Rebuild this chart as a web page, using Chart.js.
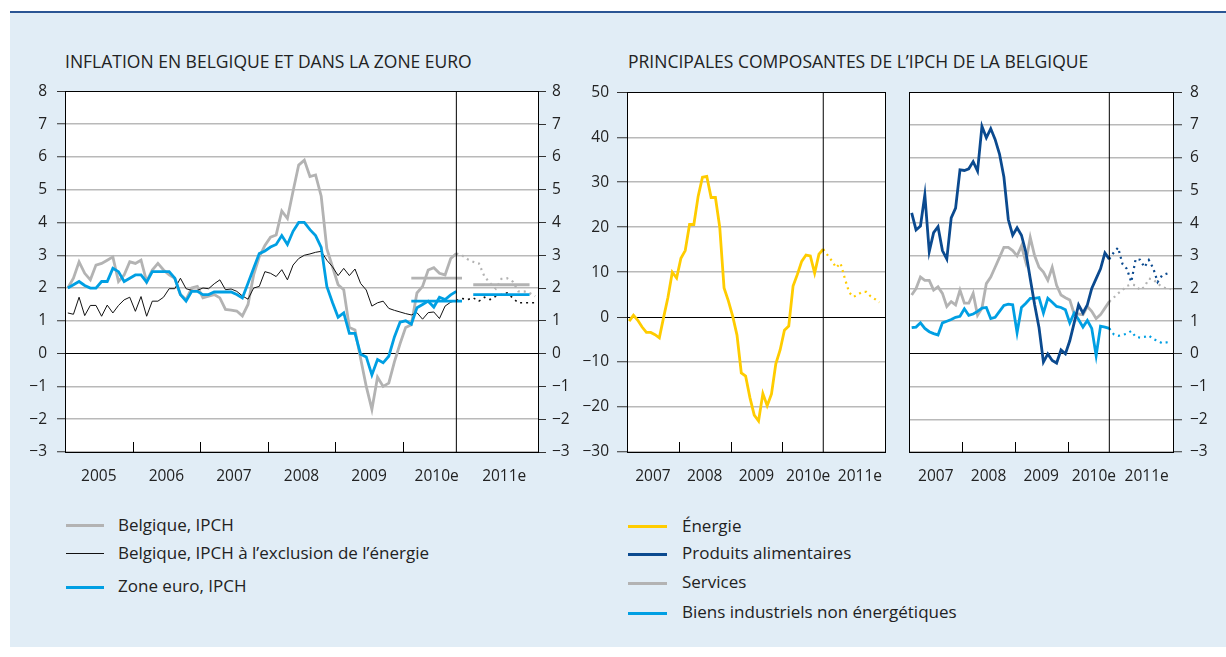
<!DOCTYPE html>
<html>
<head>
<meta charset="utf-8">
<script src="https://cdn.jsdelivr.net/npm/chart.js@4.4.0/dist/chart.umd.min.js"></script>
<style>
  body { margin: 0; width: 1226px; height: 657px; overflow: hidden; background: #fff; font-family: "Open Sans", sans-serif; color: #222; }
  #frame { position: absolute; left: 10px; top: 11px; width: 1216px; height: 634px; background: #e1edf6; border-top: 2px solid #2a5594; }
  canvas { position: absolute; }
  .title { position: absolute; font-size: 17.5px; line-height: 22px; white-space: nowrap; }
  .leg { position: absolute; font-size: 17px; line-height: 22px; white-space: nowrap; }
  .ln { position: absolute; }
</style>
</head>
<body>
<div id="frame"></div>
<div class="title" style="left:65px;top:50px">INFLATION EN BELGIQUE ET DANS LA ZONE EURO</div>
<div class="title" style="left:628px;top:50px">PRINCIPALES COMPOSANTES DE L’IPCH DE LA BELGIQUE</div>

<canvas id="left" width="580" height="418" style="left:0;top:72px"></canvas>
<canvas id="energy" width="327" height="415" style="left:570px;top:75px"></canvas>
<canvas id="parts" width="320" height="415" style="left:903px;top:75px"></canvas>

<div class="ln" style="left:66px;top:524px;width:38px;height:3px;background:#b3b3b3"></div>
<div class="leg" style="left:118px;top:514px">Belgique, IPCH</div>
<div class="ln" style="left:66px;top:553px;width:38px;height:1px;background:#111"></div>
<div class="leg" style="left:118px;top:542px">Belgique, IPCH à l’exclusion de l’énergie</div>
<div class="ln" style="left:66px;top:586px;width:38px;height:3px;background:#009fe3"></div>
<div class="leg" style="left:118px;top:575px">Zone euro, IPCH</div>

<div class="ln" style="left:628px;top:525px;width:39px;height:3px;background:#ffcc00"></div>
<div class="leg" style="left:682px;top:515px">Énergie</div>
<div class="ln" style="left:628px;top:553px;width:39px;height:3px;background:#0b4a8f"></div>
<div class="leg" style="left:682px;top:542px">Produits alimentaires</div>
<div class="ln" style="left:628px;top:582px;width:39px;height:3px;background:#b3b3b3"></div>
<div class="leg" style="left:682px;top:571px">Services</div>
<div class="ln" style="left:628px;top:612px;width:39px;height:3px;background:#009fe3"></div>
<div class="leg" style="left:682px;top:601px">Biens industriels non énergétiques</div>

<script>
// months counted from January of the first year shown, points sit mid-month
var leftYears = ['2005', '2006', '2007', '2008', '2009', '2010e', '2011e'];
var rightYears = ['2007', '2008', '2009', '2010e', '2011e'];

// left panel, Jan 2005 - Oct 2010
var belgiumHicp = [
  2.0, 2.3, 2.8, 2.45, 2.25, 2.7, 2.75, 2.85, 2.95, 2.2, 2.4, 2.8,
  2.75, 2.85, 2.2, 2.55, 2.75, 2.55, 2.4, 2.3, 1.8, 1.65, 2.0, 2.05,
  1.7, 1.75, 1.8, 1.7, 1.35, 1.33, 1.3, 1.15, 1.5, 2.4, 2.95, 3.3,
  3.55, 3.62, 4.35, 4.12, 4.95, 5.75, 5.9, 5.4, 5.45, 4.8, 3.2, 2.65,
  2.1, 1.95, 0.8, 0.72, -0.15, -1.0, -1.7, -0.72, -1.0, -0.9, -0.25, 0.3,
  0.8, 0.88, 1.85, 2.05, 2.55, 2.62, 2.45, 2.4, 2.9, 3.05
];
var belgiumCore = [
  1.24, 1.2, 1.72, 1.16, 1.47, 1.47, 1.14, 1.48, 1.24, 1.47, 1.64, 1.72,
  1.29, 1.74, 1.14, 1.6, 1.6, 1.72, 1.98, 1.98, 2.3, 1.98, 1.93, 1.93,
  2.0, 1.98, 2.13, 2.25, 1.95, 1.97, 1.9, 1.76, 1.66, 2.0, 2.05, 2.5,
  2.45, 2.35, 2.56, 2.25, 2.7, 2.9, 3.0, 3.04, 3.09, 3.12, 2.85, 2.65,
  2.38, 2.6, 2.38, 2.58, 2.14, 1.94, 1.45, 1.55, 1.6, 1.38, 1.32, 1.27,
  1.22, 1.18, 1.25, 1.05, 1.25, 1.27, 1.07, 1.45, 1.57, 1.62
];
var euroHicp = [
  2.0, 2.1, 2.2, 2.08, 2.0, 2.0, 2.2, 2.2, 2.6, 2.5, 2.2, 2.3,
  2.4, 2.4, 2.18, 2.5, 2.5, 2.5, 2.5, 2.3, 1.8, 1.6, 1.9, 1.9,
  1.8, 1.8, 1.88, 1.88, 1.88, 1.88, 1.8, 1.7, 2.15, 2.6, 3.05, 3.13,
  3.25, 3.33, 3.6, 3.33, 3.73, 4.0, 4.0, 3.78, 3.6, 3.24, 2.05, 1.56,
  1.11, 1.24, 0.62, 0.62, -0.02, -0.1, -0.65, -0.18, -0.28, -0.08, 0.51, 0.96,
  1.0, 0.9, 1.4, 1.5, 1.6, 1.42, 1.72, 1.65, 1.79, 1.9
];
// projections, Oct 2010 - Dec 2011
var belgiumHicpProj = [3.05, 3.0, 2.88, 2.8, 2.75, 2.35, 2.15, 1.98, 2.28, 2.3, 2.2, 1.9, 1.9, 1.85, 1.75];
var belgiumCoreProj = [1.62, 1.68, 1.65, 1.7, 1.6, 1.72, 1.65, 1.75, 1.8, 1.85, 1.7, 1.55, 1.55, 1.55, 1.55];
// yearly averages 2010e and 2011e
var avgBelgium = [2.3, 2.1];
var avgEuro = [1.6, 1.8];
var avgFrom = [61.5, 72.5];
var avgTo = [70.5, 82.5];
var leftForecast = 69.5;

// right panels, Jan 2007 - Oct 2010
var energy = [
  -0.9, 0.4, -0.7, -2.2, -3.4, -3.4, -3.9, -4.6, 0.0, 4.4, 10.0, 8.7,
  13.1, 14.8, 20.6, 20.6, 26.9, 31.1, 31.3, 26.6, 26.6, 20.0, 6.5, 3.6,
  0.2, -4.0, -12.4, -13.1, -17.9, -21.8, -23.1, -17.0, -19.7, -17.1, -10.4, -7.3,
  -2.9, -2.0, 6.9, 9.5, 12.4, 13.8, 13.6, 9.8, 14.0, 15.1
];
var food = [
  4.31, 3.79, 3.91, 4.86, 3.13, 3.71, 3.89, 3.16, 2.9, 4.16, 4.46, 5.63,
  5.61, 5.66, 5.88, 5.59, 6.96, 6.61, 6.89, 6.56, 6.11, 5.41, 4.11, 3.63,
  3.86, 3.63, 3.11, 2.3, 1.5, 0.8, -0.25, 0.0, -0.2, -0.28, 0.12, 0.0,
  0.4, 0.95, 1.5, 1.25, 1.5, 2.0, 2.3, 2.6, 3.09, 2.9
];
var services = [
  1.8, 2.0, 2.35, 2.25, 2.25, 1.95, 2.05, 1.85, 1.45, 1.6, 1.5, 1.95,
  1.55, 1.55, 1.85, 1.18, 1.4, 2.15, 2.35, 2.65, 2.95, 3.26, 3.26, 3.16,
  3.0, 3.3, 2.8, 3.56, 3.0, 2.65, 2.5, 2.25, 2.65, 2.1, 1.8, 1.72,
  1.65, 1.22, 1.22, 1.2, 1.45, 1.3, 1.08, 1.2, 1.4, 1.6
];
var industrial = [
  0.8, 0.82, 0.95, 0.78, 0.68, 0.62, 0.58, 0.95, 1.0, 1.05, 1.12, 1.15,
  1.38, 1.18, 1.22, 1.3, 1.4, 1.42, 1.08, 1.12, 1.3, 1.48, 1.52, 1.5,
  0.65, 1.42, 1.55, 1.7, 1.7, 1.72, 1.25, 1.7, 1.58, 1.45, 1.42, 1.35,
  0.95, 1.25, 1.05, 0.82, 1.02, 0.78, -0.05, 0.85, 0.82, 0.78
];
// projections, Oct 2010 onwards
var energyProj = [15.1, 13.8, 12.5, 11.0, 12.0, 8.6, 5.5, 4.5, 5.0, 5.6, 5.6, 4.6, 4.0, 3.3];
var foodProj = [2.9, 3.1, 3.25, 2.75, 2.6, 2.2, 2.9, 2.88, 2.65, 2.87, 2.62, 2.2, 2.4, 2.45, 2.5];
var servicesProj = [1.6, 1.72, 1.85, 1.95, 2.08, 2.12, 2.1, 1.95, 2.05, 2.3, 2.28, 2.15, 2.05, 2.0, 1.98];
var industrialProj = [0.78, 0.6, 0.55, 0.58, 0.62, 0.7, 0.52, 0.5, 0.52, 0.56, 0.45, 0.4, 0.33, 0.35, 0.38];
var rightForecast = 45.5;

var GRAY = '#b3b3b3', BLUE = '#009fe3', NAVY = '#0b4a8f', YELLOW = '#ffcc00';

Chart.defaults.font.family = "'Open Sans', sans-serif";
Chart.defaults.font.size = 15.5;
Chart.defaults.color = '#222';

function pts(values, start) {
  return values.map(function (v, i) { return { x: start + i + 0.5, y: v }; });
}
function bars(values) {
  var out = [];
  values.forEach(function (v, i) {
    out.push({ x: avgFrom[i], y: v }, { x: avgTo[i], y: v });
    if (i < values.length - 1) out.push({ x: avgTo[i], y: null });
  });
  return out;
}
function line(data, color, width, dotted) {
  return {
    data: data, borderColor: color, borderWidth: width, pointRadius: 0,
    tension: 0, fill: false, spanGaps: false,
    borderDash: dotted ? [2, 4] : []
  };
}
function vline(at, min, max) {
  return line([{ x: at, y: min }, { x: at, y: max }], '#000', 1, false);
}
function minus(v) { return v < 0 ? '\u2212' + (-v) : '' + v; }

var whiteArea = {
  id: 'whiteArea',
  beforeDraw: function (chart) {
    var a = chart.chartArea, ctx = chart.ctx;
    ctx.save();
    ctx.fillStyle = '#fff';
    ctx.fillRect(a.left, a.top, a.right - a.left, a.bottom - a.top);
    ctx.restore();
  }
};
// short year separators standing up from the bottom axis
var yearTicks = {
  id: 'yearTicks',
  afterDatasetsDraw: function (chart, args, opts) {
    var ctx = chart.ctx, x = chart.scales.x, b = chart.chartArea.bottom;
    ctx.save();
    ctx.strokeStyle = '#000';
    ctx.lineWidth = 1;
    opts.at.forEach(function (v) {
      var px = Math.round(x.getPixelForValue(v)) + 0.5;
      ctx.beginPath();
      ctx.moveTo(px, b);
      ctx.lineTo(px, b - 10);
      ctx.stroke();
    });
    ctx.restore();
  }
};

function xAxis(years) {
  return {
    type: 'linear', min: 0, max: years.length * 12,
    afterBuildTicks: function (s) {
      s.ticks = years.map(function (y, i) { return { value: i * 12 + 6 }; });
    },
    ticks: {
      autoSkip: false, maxRotation: 0, padding: 15,
      callback: function (v) { return years[Math.round((v - 6) / 12)]; }
    },
    grid: { display: true, drawOnChartArea: false, drawTicks: false },
    border: { color: '#000', width: 1 },
    afterFit: function (s) { s.height = 38; }
  };
}
function gridColor(max) {
  return function (c) { return (c.tick.value === 0 || c.tick.value === max) ? '#000' : '#b9b9b9'; };
}
function gridWidth(max) {
  return function (c) { return (c.tick.value === 0 || c.tick.value === max) ? 1 : 1.5; };
}
function boundaries(years) {
  var out = [];
  for (var i = 1; i < years.length - 1; i++) out.push(i * 12);
  return out;
}
var common = {
  responsive: false, animation: false, devicePixelRatio: 1, events: [],
  plugins: { legend: { display: false }, tooltip: { enabled: false } }
};

// 1. Inflation en Belgique et dans la zone euro
new Chart(document.getElementById('left'), {
  type: 'line',
  data: {
    datasets: [
      vline(leftForecast, -3, 8),
      line(pts(euroHicp, 0), BLUE, 2.8),
      line(bars(avgEuro), BLUE, 2.8),
      line(bars(avgBelgium), GRAY, 2.8),
      line(pts(belgiumCore, 0), '#111', 1),
      line(pts(belgiumCoreProj, 69), '#111', 1.6, true),
      line(pts(belgiumHicp, 0), GRAY, 2.8),
      line(pts(belgiumHicpProj, 69), GRAY, 2.2, true)
    ]
  },
  options: Object.assign({}, common, {
    layout: { padding: { top: 10 } },
    scales: {
      x: xAxis(leftYears),
      y: {
        min: -3, max: 8,
        ticks: { stepSize: 1, padding: 10, callback: minus },
        grid: { color: gridColor(8), lineWidth: gridWidth(8), tickColor: '#333', tickLength: 8, tickWidth: 1 },
        border: { color: '#000', width: 1 },
        afterFit: function (s) { s.width = 65; }
      },
      y2: {
        position: 'right', min: -3, max: 8,
        ticks: { stepSize: 1, padding: 6, callback: minus },
        grid: { drawOnChartArea: false, tickColor: '#333', tickLength: 8, tickWidth: 1 },
        border: { color: '#000', width: 1 },
        afterFit: function (s) { s.width = 42; }
      }
    },
    plugins: Object.assign({}, common.plugins, { yearTicks: { at: boundaries(leftYears) } })
  }),
  plugins: [whiteArea, yearTicks]
});

// 2. Energie
new Chart(document.getElementById('energy'), {
  type: 'line',
  data: {
    datasets: [
      vline(rightForecast, -30, 50),
      line(pts(energy, 0), YELLOW, 2.8),
      line(pts(energyProj, 45), YELLOW, 2.2, true)
    ]
  },
  options: Object.assign({}, common, {
    layout: { padding: { top: 10 } },
    scales: {
      x: xAxis(rightYears),
      y: {
        min: -30, max: 50,
        ticks: { stepSize: 10, padding: 8, callback: minus },
        grid: { color: gridColor(50), lineWidth: gridWidth(50), tickColor: '#333', tickLength: 10, tickWidth: 1 },
        border: { color: '#000', width: 1 },
        afterFit: function (s) { s.width = 57; }
      },
      yr: {
        position: 'right', min: -30, max: 50,
        ticks: { display: false },
        grid: { drawOnChartArea: false, drawTicks: false },
        border: { color: '#000', width: 1 },
        afterFit: function (s) { s.width = 0; }
      }
    },
    plugins: Object.assign({}, common.plugins, { yearTicks: { at: boundaries(rightYears) } })
  }),
  plugins: [whiteArea, yearTicks]
});

// 3. Alimentation, services, biens industriels
new Chart(document.getElementById('parts'), {
  type: 'line',
  data: {
    datasets: [
      vline(rightForecast, -3, 8),
      line(pts(food, 0), NAVY, 2.8),
      line(pts(foodProj, 45), NAVY, 2.2, true),
      line(pts(industrial, 0), BLUE, 2.8),
      line(pts(industrialProj, 45), BLUE, 2.2, true),
      line(pts(services, 0), GRAY, 2.8),
      line(pts(servicesProj, 45), GRAY, 2.2, true)
    ]
  },
  options: Object.assign({}, common, {
    layout: { padding: { top: 10 } },
    scales: {
      x: xAxis(rightYears),
      y: {
        position: 'right', min: -3, max: 8,
        ticks: { stepSize: 1, padding: 8, callback: minus },
        grid: { color: gridColor(8), lineWidth: gridWidth(8), tickColor: '#333', tickLength: 9, tickWidth: 1 },
        border: { color: '#000', width: 1 },
        afterFit: function (s) { s.width = 50; }
      },
      yl: {
        position: 'left', min: -3, max: 8,
        ticks: { display: false },
        grid: { drawOnChartArea: false, drawTicks: false },
        border: { color: '#000', width: 1 },
        afterFit: function (s) { s.width = 1; }
      }
    },
    plugins: Object.assign({}, common.plugins, { yearTicks: { at: boundaries(rightYears) } })
  }),
  plugins: [whiteArea, yearTicks]
});
</script>
</body>
</html>
